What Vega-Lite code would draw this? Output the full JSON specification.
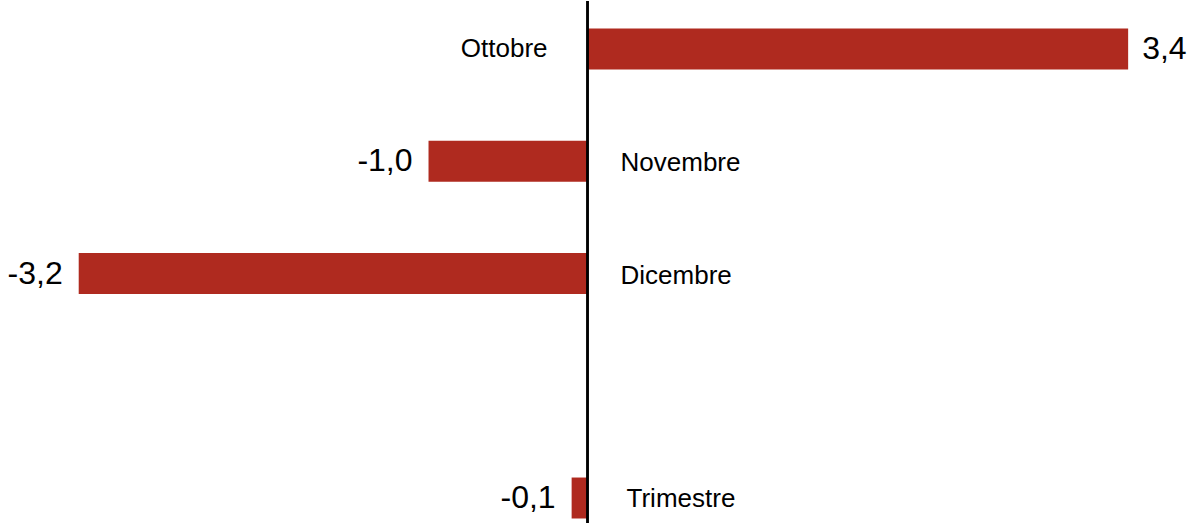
{
  "$schema": "https://vega.github.io/schema/vega-lite/v6.json",
  "width": 1190,
  "height": 524,
  "autosize": {"type": "fit", "contains": "padding"},
  "padding": 0,
  "background": "white",
  "config": {"view": {"stroke": null}, "font": "Liberation Sans"},
  "data": {
    "values": [
      {"mese": "Ottobre", "valore": 3.4, "etichetta": "3,4"},
      {"mese": "Novembre", "valore": -1.0, "etichetta": "-1,0"},
      {"mese": "Dicembre", "valore": -3.2, "etichetta": "-3,2"},
      {"mese": "Trimestre", "valore": -0.1, "etichetta": "-0,1"}
    ]
  },
  "encoding": {
    "y": {
      "field": "mese",
      "type": "nominal",
      "axis": null,
      "scale": {
        "domain": ["Ottobre", "Novembre", "Dicembre", " ", "Trimestre"],
        "range": [27.5, 517.5],
        "paddingInner": 0.635,
        "paddingOuter": 0
      }
    }
  },
  "layer": [
    {
      "mark": {"type": "bar", "color": "#AF2A1F"},
      "encoding": {
        "x": {"field": "valore", "type": "quantitative", "axis": null, "scale": {"domain": [-3.695, 3.789], "nice": false, "zero": false}}
      }
    },
    {
      "mark": {"type": "rule", "color": "black", "strokeWidth": 2},
      "encoding": {"x": {"datum": 0, "type": "quantitative"}, "y": null}
    },
    {
      "transform": [{"filter": "datum.valore >= 0"}],
      "mark": {"type": "text", "align": "left", "baseline": "middle", "dx": 14, "fontSize": 32, "color": "black"},
      "encoding": {"x": {"field": "valore", "type": "quantitative"}, "text": {"field": "etichetta"}}
    },
    {
      "transform": [{"filter": "datum.valore < 0"}],
      "mark": {"type": "text", "align": "right", "baseline": "middle", "dx": -16, "fontSize": 32, "color": "black"},
      "encoding": {"x": {"field": "valore", "type": "quantitative"}, "text": {"field": "etichetta"}}
    },
    {
      "transform": [{"filter": "datum.valore >= 0"}],
      "mark": {"type": "text", "align": "right", "baseline": "middle", "dx": -40, "fontSize": 26, "color": "black"},
      "encoding": {"x": {"datum": 0, "type": "quantitative"}, "text": {"field": "mese"}}
    },
    {
      "transform": [{"filter": "datum.valore < 0 && datum.mese != 'Trimestre'"}],
      "mark": {"type": "text", "align": "left", "baseline": "middle", "dx": 33, "dy": 2, "fontSize": 26, "color": "black"},
      "encoding": {"x": {"datum": 0, "type": "quantitative"}, "text": {"field": "mese"}}
    },
    {
      "transform": [{"filter": "datum.mese == 'Trimestre'"}],
      "mark": {"type": "text", "align": "left", "baseline": "middle", "dx": 39, "dy": 1, "fontSize": 26, "color": "black"},
      "encoding": {"x": {"datum": 0, "type": "quantitative"}, "text": {"field": "mese"}}
    }
  ]
}
